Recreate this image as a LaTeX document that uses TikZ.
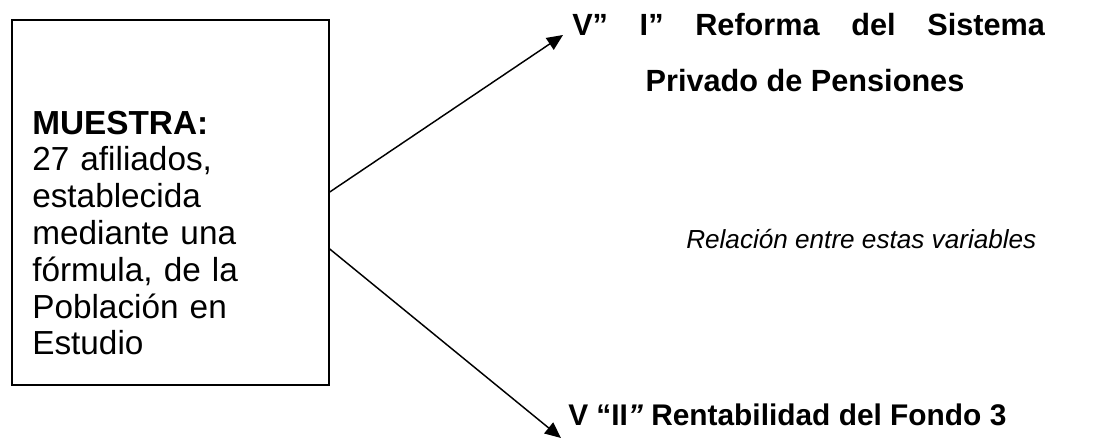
\documentclass[tikz,border=0pt]{standalone}
\usepackage{fontspec}
\setmainfont{Liberation Sans}
\usetikzlibrary{arrows.meta,calc}
\begin{document}
\begin{tikzpicture}[x=0.75pt,y=-0.75pt,
  texto/.style={inner sep=0pt,font=\fontsize{23}{27.6}\selectfont},
  flecha/.style={-{Triangle[length=12pt,width=10.5pt]},line width=1.1pt}]
\useasboundingbox (0,0) rectangle (1102,439);
\node[draw,line width=1.1pt,minimum width=237.75pt,minimum height=273.75pt,inner sep=0pt] (muestra) at (170.5,202.5) {};
\node[texto,anchor=base west,text width=220pt,align=left,font=\fontsize{25}{27.6}\selectfont] (datos) at (32,134)
  {\textbf{MUESTRA:}\\27 afiliados,\\establecida\\mediante una\\fórmula, de la\\Población en\\Estudio};
\node[texto,anchor=base west,text width=354.75pt] (varuno) at (572,35)
  {\textbf{V”\hfill I”\hfill Reforma\hfill del\hfill Sistema}};
\node[texto,anchor=base] (varunob) at (805,91) {\textbf{Privado de Pensiones}};
\node[inner sep=0pt,anchor=base west,font=\fontsize{19.6}{22}\selectfont\itshape] (relacion) at (686,248)
  {Relación entre estas variables};
\node[texto,anchor=base west,font=\fontsize{22.4}{26}\selectfont] (vardos) at (568,425) {\textbf{V “II\textit{”} Rentabilidad del Fondo 3}};
\coordinate (puntauno) at (563,35);
\coordinate (puntados) at (561,438);
%\draw[red] (muestra.east) circle (2);
\draw[flecha] ($(muestra.east)+(0,-10.5)$) -- (puntauno);
\draw[flecha] ($(muestra.east)+(0,46.5)$) -- (puntados);
\end{tikzpicture}
\end{document}
